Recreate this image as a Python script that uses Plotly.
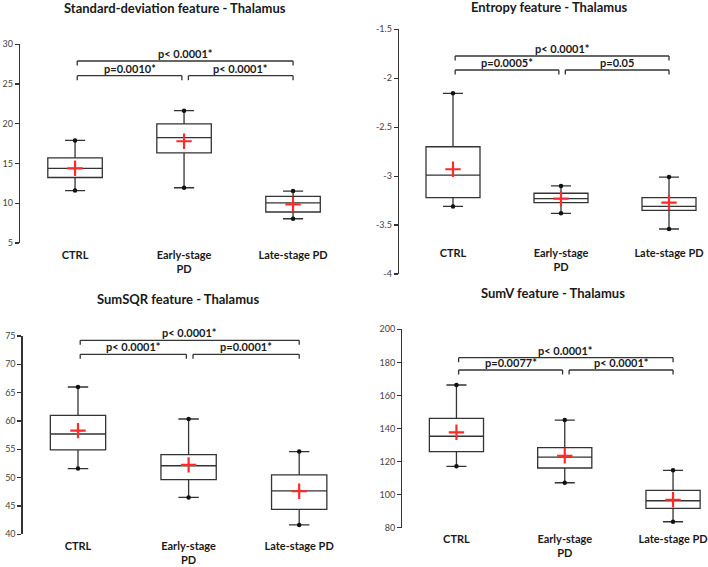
import plotly.graph_objects as go

W, H = 708, 567

categories = ["CTRL", "Early-stage<br>PD", "Late-stage PD"]

titles = [
    "Standard-deviation feature - Thalamus",
    "Entropy feature - Thalamus",
    "SumSQR feature - Thalamus",
    "SumV feature - Thalamus",
]

# Panel 1: Standard deviation
sd_low = [11.6, 11.95, 8.05]
sd_q1 = [13.24, 16.35, 8.9]
sd_med = [14.4, 18.25, 10.05]
sd_q3 = [15.7, 20.0, 10.86]
sd_high = [17.9, 21.65, 11.53]
sd_mean = [14.4, 17.8, 9.85]
sd_p = ["p< 0.0001*", "p=0.0010*", "p< 0.0001*"]

# Panel 2: Entropy
en_low = [-3.31, -3.38, -3.54]
en_q1 = [-3.22, -3.27, -3.35]
en_med = [-2.99, -3.23, -3.31]
en_q3 = [-2.70, -3.175, -3.22]
en_high = [-2.154, -3.10, -3.01]
en_mean = [-2.93, -3.23, -3.27]
en_p = ["p< 0.0001*", "p=0.0005*", "p=0.05"]

# Panel 3: SumSQR
sq_low = [51.6, 46.5, 41.65]
sq_q1 = [54.9, 49.65, 44.4]
sq_med = [57.7, 52.1, 47.65]
sq_q3 = [61.0, 54.05, 50.5]
sq_high = [66.0, 60.35, 54.6]
sq_mean = [58.3, 52.25, 47.6]
sq_p = ["p< 0.0001*", "p< 0.0001*", "p=0.0001*"]

# Panel 4: SumV
sv_low = [117.1, 107.2, 83.6]
sv_q1 = [126.0, 116.1, 91.7]
sv_med = [135.3, 122.7, 96.3]
sv_q3 = [146.1, 128.4, 102.6]
sv_high = [166.3, 145.1, 114.7]
sv_mean = [137.7, 123.5, 96.9]
sv_p = ["p< 0.0001*", "p=0.0077*", "p< 0.0001*"]

y_ticks = [
    [5, 10, 15, 20, 25, 30],
    [-4, -3.5, -3, -2.5, -2, -1.5],
    [40, 45, 50, 55, 60, 65, 70, 75],
    [80, 100, 120, 140, 160, 180, 200],
]
y_ticktext = [
    ["5", "10", "15", "20", "25", "30"],
    ["-4", "-3.5", "-3", "-2.5", "-2", "-1.5"],
    ["40", "45", "50", "55", "60", "65", "70", "75"],
    ["80", "100", "120", "140", "160", "180", "200"],
]

panels = [
    dict(low=sd_low, q1=sd_q1, med=sd_med, q3=sd_q3, high=sd_high, mean=sd_mean, p=sd_p),
    dict(low=en_low, q1=en_q1, med=en_med, q3=en_q3, high=en_high, mean=en_mean, p=en_p),
    dict(low=sq_low, q1=sq_q1, med=sq_med, q3=sq_q3, high=sq_high, mean=sq_mean, p=sq_p),
    dict(low=sv_low, q1=sv_q1, med=sv_med, q3=sv_q3, high=sv_high, mean=sv_mean, p=sv_p),
]

# ---- layout geometry (pixels) ----
geo = [
    dict(left=20, xr=[-0.505, 2.5], spacing=109, top=44.3, bottom=243, yr=[5, 30], xline=246.5,
         title=(175, 8), br=(61, 75.7)),
    dict(left=399, xr=[-0.5, 2.3], spacing=108, top=29.3, bottom=274, yr=[-4, -1.5], xline=245,
         title=(549, 7), br=(56, 70)),
    dict(left=22.7, xr=[-0.5, 2.45], spacing=110.6, top=336, bottom=534.3, yr=[40, 75], xline=537.5,
         title=(178, 299), br=(60.3 + 280, 74.3 + 280)),
    dict(left=402.3, xr=[-0.5, 2.3], spacing=108.3, top=329.3, bottom=527.7, yr=[80, 200], xline=531,
         title=(553, 293), br=(77.7 + 280, 90 + 280)),
]

FONT = "Lato, 'Open Sans', Arial, sans-serif"
TXT = "#1a1a1a"
LINE = "#333333"

fig = go.Figure()
layout = dict(
    width=W, height=H, margin=dict(l=0, r=0, t=0, b=0, autoexpand=False),
    paper_bgcolor="white", plot_bgcolor="white", showlegend=False,
    font=dict(family=FONT, color=TXT),
)
shapes = []
annotations = []

pos = [0, 1, 2]
for i, (pd_, g) in enumerate(zip(panels, geo)):
    n = "" if i == 0 else str(i + 1)
    xa, ya = "x" + n, "y" + n
    width_px = (g["xr"][1] - g["xr"][0]) * g["spacing"]
    x0 = g["left"] / W
    x1 = min((g["left"] + width_px) / W, 1.0)
    yd0 = 1 - g["bottom"] / H
    yd1 = 1 - g["top"] / H
    layout["xaxis" + n] = dict(
        domain=[x0, x1], range=g["xr"], anchor="free", position=1 - g["xline"] / H,
        tickvals=pos, ticktext=categories, showline=False, showgrid=False, zeroline=False,
        ticks="", tickfont=dict(size=11, family=FONT, color=TXT, weight="bold"),
    )
    layout["yaxis" + n] = dict(
        domain=[yd0, yd1], range=g["yr"], anchor=xa,
        tickvals=y_ticks[i], ticktext=y_ticktext[i],
        showline=True, linecolor=LINE, linewidth=1.3, ticks="outside", ticklen=4,
        tickcolor=LINE, tickwidth=1.2, showgrid=False, zeroline=False,
        tickfont=dict(size=9, color="#444444", family=FONT),
    )

    fig.add_trace(go.Box(
        x=pos, q1=pd_["q1"], median=pd_["med"], q3=pd_["q3"],
        lowerfence=pd_["low"], upperfence=pd_["high"],
        width=0.5, whiskerwidth=0.37, fillcolor="white",
        line=dict(color=LINE, width=1.3), boxpoints=False,
        xaxis=xa, yaxis=ya, hoverinfo="skip",
    ))
    fig.add_trace(go.Scatter(
        x=pos + pos, y=pd_["low"] + pd_["high"], mode="markers",
        marker=dict(color="#111111", size=4.5), xaxis=xa, yaxis=ya, hoverinfo="skip",
    ))
    fig.add_trace(go.Scatter(
        x=pos, y=pd_["mean"], mode="markers",
        marker=dict(symbol="cross-thin", size=11, line=dict(color="#ff2a2a", width=2.2)),
        xaxis=xa, yaxis=ya, hoverinfo="skip",
    ))

    dom_h = g["bottom"] - g["top"]
    ytop = 1 - (g["br"][0] - g["top"]) / dom_h
    ylow = 1 - (g["br"][1] - g["top"]) / dom_h
    drop = 4.5 / dom_h
    spans = [(0.02, 2.0, ytop), (0.02, 0.98, ylow), (1.04, 2.0, ylow)]
    for (bx0, bx1, by), txt in zip(spans, pd_["p"]):
        ln = dict(type="line", xref=xa, yref=ya + " domain", line=dict(color=LINE, width=1.3))
        shapes.append(dict(ln, x0=bx0, x1=bx1, y0=by, y1=by))
        shapes.append(dict(ln, x0=bx0, x1=bx0, y0=by, y1=by - drop))
        shapes.append(dict(ln, x0=bx1, x1=bx1, y0=by, y1=by - drop))
        annotations.append(dict(
            x=(bx0 + bx1) / 2, y=by, xref=xa, yref=ya + " domain", text=txt,
            showarrow=False, yanchor="bottom", xanchor="center", yshift=-1,
            font=dict(size=11, family=FONT, color=TXT, weight="bold"),
        ))

    annotations.append(dict(
        x=g["title"][0] / W, y=1 - g["title"][1] / H, xref="paper", yref="paper",
        text="<b>" + titles[i] + "</b>", showarrow=False, xanchor="center", yanchor="middle",
        font=dict(size=13, family=FONT, color=TXT),
    ))

layout["shapes"] = shapes
layout["annotations"] = annotations
fig.update_layout(**layout)
fig.write_html("out.html", config={"displayModeBar": False, "staticPlot": True},
               post_script="document.body.style.margin='0';")
